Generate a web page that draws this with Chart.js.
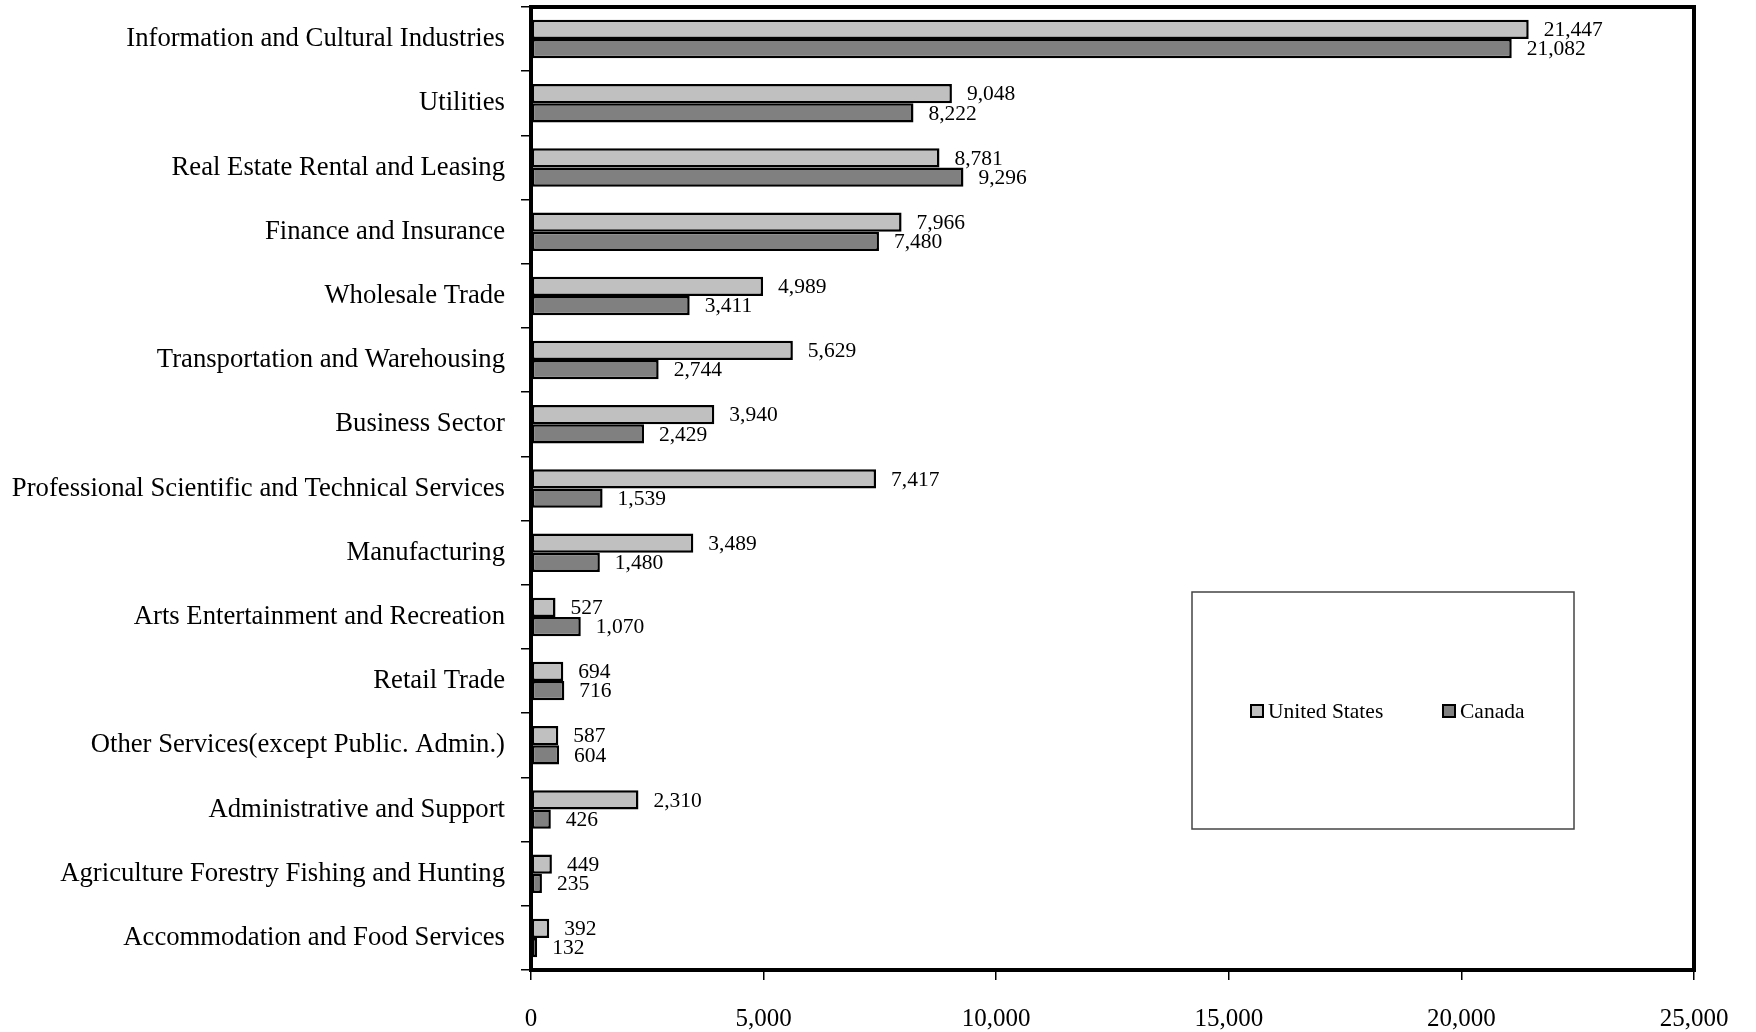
<!DOCTYPE html>
<html>
<head>
<meta charset="utf-8">
<script src="https://cdn.jsdelivr.net/npm/chart.js@4.4.0/dist/chart.umd.min.js"></script>
<style>
  html, body { margin: 0; padding: 0; background: #fff; }
  #wrap { width: 1756px; height: 1032px; }
</style>
</head>
<body>
<div id="wrap"><canvas id="chart" width="1756" height="1032"></canvas></div>
<script>
// chart data
const categories = [
  'Information and Cultural Industries',
  'Utilities',
  'Real Estate Rental and Leasing',
  'Finance and Insurance',
  'Wholesale Trade',
  'Transportation and Warehousing',
  'Business Sector',
  'Professional Scientific and Technical Services',
  'Manufacturing',
  'Arts Entertainment and Recreation',
  'Retail Trade',
  'Other Services(except Public. Admin.)',
  'Administrative and Support',
  'Agriculture Forestry Fishing and Hunting',
  'Accommodation and Food Services'
];
const unitedStates = [21447, 9048, 8781, 7966, 4989, 5629, 3940, 7417, 3489, 527, 694, 587, 2310, 449, 392];
const canada = [21082, 8222, 9296, 7480, 3411, 2744, 2429, 1539, 1480, 1070, 716, 604, 426, 235, 132];
const xTicks = [0, 5000, 10000, 15000, 20000, 25000];

const serif = '"Liberation Serif", "Times New Roman", serif';
const fmt = v => v.toLocaleString('en-US');

// value labels just right of each bar
const valueLabels = {
  id: 'valueLabels',
  afterDatasetsDraw(chart) {
    const ctx = chart.ctx;
    ctx.save();
    ctx.font = '21.5px ' + serif;
    ctx.fillStyle = '#000';
    ctx.textAlign = 'left';
    ctx.textBaseline = 'middle';
    chart.data.datasets.forEach((ds, i) => {
      chart.getDatasetMeta(i).data.forEach((bar, j) => {
        ctx.fillText(fmt(ds.data[j]), bar.x + 15, bar.y + 1);
      });
    });
    ctx.restore();
  }
};

// thick frame around the plot + boxed legend
const frameAndLegend = {
  id: 'frameAndLegend',
  afterDraw(chart) {
    const ctx = chart.ctx;
    const a = chart.chartArea;
    ctx.save();
    ctx.strokeStyle = '#000';
    ctx.lineWidth = 4;
    ctx.strokeRect(a.left, a.top, a.right - a.left, a.bottom - a.top);

    // legend box
    ctx.lineWidth = 1.5;
    ctx.strokeStyle = '#444';
    ctx.strokeRect(1192, 592, 382, 237);

    const items = [
      { label: 'United States', color: '#c0c0c0', x: 1251 },
      { label: 'Canada', color: '#808080', x: 1443 }
    ];
    ctx.font = '21.5px ' + serif;
    ctx.textBaseline = 'middle';
    ctx.textAlign = 'left';
    items.forEach(it => {
      ctx.fillStyle = it.color;
      ctx.fillRect(it.x, 705, 12, 12);
      ctx.lineWidth = 2;
      ctx.strokeStyle = '#000';
      ctx.strokeRect(it.x, 705, 12, 12);
      ctx.fillStyle = '#000';
      ctx.fillText(it.label, it.x + 17, 712);
    });
    ctx.restore();
  }
};

const ctx = document.getElementById('chart').getContext('2d');
new Chart(ctx, {
  type: 'bar',
  data: {
    labels: categories,
    datasets: [
      {
        label: 'United States',
        data: unitedStates,
        backgroundColor: '#c0c0c0',
        borderColor: '#000',
        borderWidth: 2.5,
        borderSkipped: false,
        categoryPercentage: 0.6,
        barPercentage: 1.0
      },
      {
        label: 'Canada',
        data: canada,
        backgroundColor: '#808080',
        borderColor: '#000',
        borderWidth: 2.5,
        borderSkipped: false,
        categoryPercentage: 0.6,
        barPercentage: 1.0
      }
    ]
  },
  options: {
    indexAxis: 'y',
    responsive: false,
    animation: false,
    layout: { padding: { top: 7, right: 62, left: 0, bottom: 0 } },
    plugins: {
      legend: { display: false },
      tooltip: { enabled: false }
    },
    scales: {
      x: {
        min: 0,
        max: 25000,
        afterBuildTicks: s => { s.ticks = xTicks.map(v => ({ value: v })); },
        afterFit: s => { s.height = 62; },
        grid: { drawOnChartArea: false, color: '#000', tickLength: 10, lineWidth: 1.5 },
        border: { display: false },
        ticks: {
          color: '#000',
          padding: 24,
          maxRotation: 0,
          font: { family: serif, size: 25 },
          callback: v => fmt(v)
        }
      },
      y: {
        afterFit: s => { s.width = 531; s.paddingTop = 0; s.paddingBottom = 0; },
        grid: { drawOnChartArea: false, offset: true, color: '#000', tickLength: 10, lineWidth: 1.5 },
        border: { display: false },
        ticks: {
          color: '#000',
          padding: 16,
          autoSkip: false,
          font: { family: serif, size: 26.7 }
        }
      }
    }
  },
  plugins: [valueLabels, frameAndLegend]
});
</script>
</body>
</html>
